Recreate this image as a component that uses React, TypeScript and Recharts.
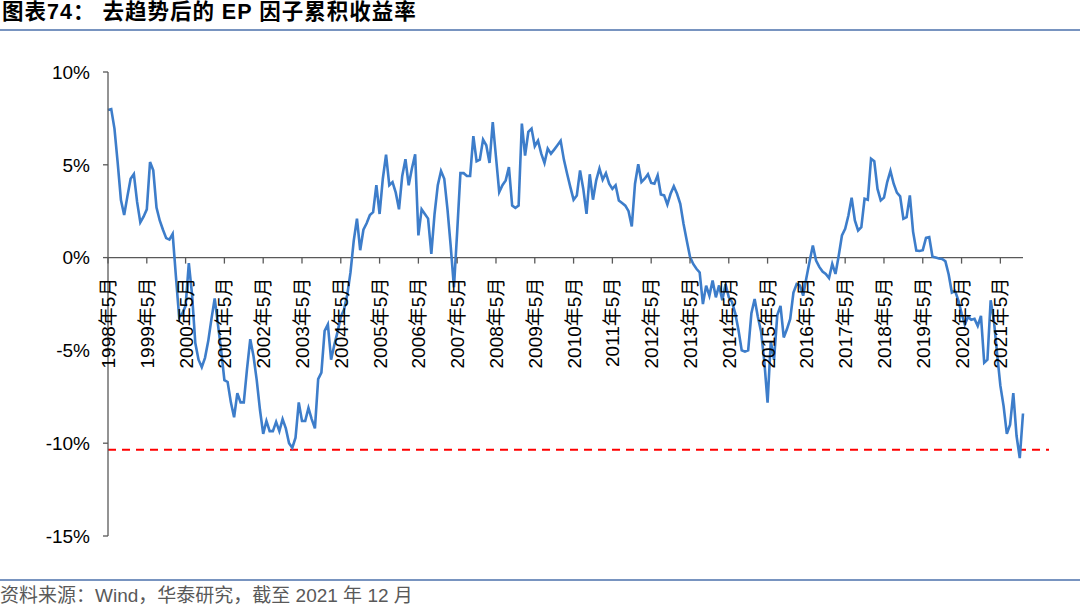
import React from "react";
import { LineChart, Line, XAxis, YAxis, ReferenceLine } from "recharts";

// 去趋势后的 EP 因子累积收益率（%），每行为当年5月至次年4月
const ep1998 = [7.95, 8.0, 6.95, 5.1, 3.1, 2.3, 3.3, 4.25, 4.5, 3.0, 1.9, 2.2];
const ep1999 = [2.6, 5.15, 4.7, 2.7, 2.0, 1.5, 1.05, 0.97, 1.28, -1.0, -3.2, -3.0];
const ep2000 = [-2.6, -0.3, -2.0, -4.6, -5.5, -5.9, -5.4, -4.5, -3.3, -2.2, -3.6, -5.0];
const ep2001 = [-6.6, -6.7, -7.8, -8.6, -7.3, -7.8, -7.8, -6.0, -4.4, -5.3, -6.6, -8.2];
const ep2002 = [-9.5, -8.8, -9.35, -9.35, -8.85, -9.35, -8.7, -9.2, -10.0, -10.25, -9.7, -7.8];
const ep2003 = [-8.8, -8.8, -8.1, -8.7, -9.2, -6.55, -6.2, -3.95, -3.6, -5.5, -4.7, -4.0];
const ep2004 = [-3.2, -2.8, -2.0, -0.8, 0.9, 2.1, 0.4, 1.5, 1.85, 2.3, 2.45, 3.9];
const ep2005 = [2.35, 4.25, 5.55, 3.9, 4.07, 3.5, 2.6, 4.4, 5.3, 3.9, 4.8, 5.57];
const ep2006 = [1.2, 2.6, 2.35, 2.1, 0.2, 2.35, 3.9, 4.67, 4.25, 2.6, 0.6, -1.6];
const ep2007 = [1.4, 4.55, 4.55, 4.4, 4.4, 6.54, 5.19, 5.28, 6.36, 6.05, 5.1, 7.3];
const ep2008 = [5.42, 3.53, 3.9, 4.16, 4.88, 2.8, 2.68, 2.8, 7.22, 5.5, 6.77, 6.95];
const ep2009 = [6.0, 6.3, 5.6, 5.1, 5.87, 5.6, 5.82, 6.05, 6.29, 5.28, 4.52, 3.8];
const ep2010 = [3.12, 3.35, 4.7, 3.7, 2.36, 4.49, 3.12, 4.16, 4.8, 4.2, 4.55, 3.98];
const ep2011 = [3.7, 3.9, 3.08, 2.94, 2.8, 2.5, 1.68, 3.98, 5.03, 4.07, 4.25, 4.49];
const ep2012 = [4.02, 3.98, 4.43, 3.4, 3.35, 2.86, 3.44, 3.84, 3.44, 2.9, 1.82, 0.92];
const ep2013 = [0.05, -0.34, -0.6, -0.8, -2.5, -1.51, -2.05, -1.24, -2.14, -1.5, -2.3, -1.42];
const ep2014 = [-2.14, -2.4, -3.0, -3.9, -5.0, -5.06, -5.0, -3.0, -2.23, -3.2, -4.0, -5.6];
const ep2015 = [-7.82, -4.5, -5.5, -3.1, -2.6, -4.3, -3.85, -3.3, -1.88, -1.42, -1.5, -2.05];
const ep2016 = [-1.1, -0.2, 0.65, -0.16, -0.5, -0.75, -0.88, -1.1, -0.34, -0.88, 0.1, 1.19];
const ep2017 = [1.55, 2.27, 3.23, 2.0, 1.46, 1.64, 3.17, 3.12, 5.33, 5.2, 3.7, 3.08];
const ep2018 = [3.23, 4.07, 4.67, 3.98, 3.5, 3.3, 2.09, 2.18, 3.35, 1.4, 0.38, 0.36];
const ep2019 = [0.4, 1.06, 1.1, 0.05, 0.0, -0.05, -0.07, -0.2, -0.9, -1.88, -1.8, -2.3];
const ep2020 = [-3.0, -3.6, -3.2, -3.35, -3.3, -3.68, -3.14, -5.66, -5.5, -2.3, -3.4, -5.2];
const ep2021 = [-6.9, -8.0, -9.5, -9.0, -7.3, -9.6, -10.8, -8.4];

const START_YEAR = 1998;
const START_MONTH = 5;
const yTicks = [-15, -10, -5, 0, 5, 10];
const floorLevel = -10.35;

const values = [
  ep1998, ep1999, ep2000, ep2001, ep2002, ep2003, ep2004, ep2005,
  ep2006, ep2007, ep2008, ep2009, ep2010, ep2011, ep2012, ep2013,
  ep2014, ep2015, ep2016, ep2017, ep2018, ep2019, ep2020, ep2021,
].flat();

const data = values.map((v, k) => {
  const m = START_MONTH - 1 + k;
  return {
    month: `${START_YEAR + Math.floor(m / 12)}年${(m % 12) + 1}月`,
    value: v,
  };
});

const FONT = "'Liberation Sans', Arial, 'Noto Sans CJK SC', sans-serif";
const W = 1080;
const H = 608;
const PLOT_TOP = 72;
const PLOT_BOTTOM = 536;
// 横轴画在 0% 处
const ZERO_Y = PLOT_TOP + ((PLOT_BOTTOM - PLOT_TOP) * 10) / 25;

function MonthTick(props: any) {
  const { x, payload } = props;
  return (
    <g>
      <line x1={x} x2={x} y1={ZERO_Y} y2={ZERO_Y + 6} stroke="#595959" strokeWidth={1.3} />
      <text
        transform={`translate(${x + 7},${ZERO_Y + 20}) rotate(-90)`}
        textAnchor="end"
        fontSize={19}
        fontFamily={FONT}
        fill="#000"
      >
        {payload.value}
      </text>
    </g>
  );
}

export default function App() {
  return (
    <div style={{ position: "absolute", left: 0, top: 0, width: W, height: H, background: "#fff", fontFamily: FONT }}>
      <div
        style={{
          position: "absolute",
          left: 2,
          top: 0,
          fontSize: 21.5,
          lineHeight: "24px",
          letterSpacing: 1,
          fontWeight: "bold",
          whiteSpace: "pre",
          color: "#000",
        }}
      >
        {"图表74： 去趋势后的 EP 因子累积收益率"}
      </div>
      <div style={{ position: "absolute", left: 0, top: 29, width: W, height: 2, background: "#7894c0" }} />

      <div style={{ position: "absolute", left: 0, top: 0 }}>
        <LineChart
          width={W}
          height={H}
          data={data}
          margin={{ top: PLOT_TOP, right: 57, bottom: H - PLOT_BOTTOM - 1, left: 0 }}
        >
          <YAxis
            type="number"
            domain={[-15, 10]}
            ticks={yTicks}
            interval={0}
            width={108}
            tickFormatter={(v) => `${v}%`}
            axisLine={{ stroke: "#595959", strokeWidth: 1.3 }}
            tickLine={{ stroke: "#595959", strokeWidth: 1.3 }}
            tickSize={5}
            tickMargin={13}
            tick={{ fontSize: 19, fill: "#000", fontFamily: FONT }}
          />
          <XAxis
            dataKey="month"
            interval={11}
            height={1}
            axisLine={false}
            tickLine={false}
            tick={<MonthTick />}
          />
          <ReferenceLine y={0} stroke="#595959" strokeWidth={1.3} />
          <ReferenceLine
            y={floorLevel}
            shape={(p: any) => (
              <line
                x1={p.x1}
                y1={p.y1}
                x2={p.x2 + 26}
                y2={p.y2}
                stroke="#ff0000"
                strokeWidth={2}
                strokeDasharray="8 6"
              />
            )}
          />
          <Line
            type="linear"
            dataKey="value"
            stroke="#3d7dca"
            strokeWidth={2.6}
            dot={false}
            activeDot={false}
            isAnimationActive={false}
          />
        </LineChart>
      </div>

      <div style={{ position: "absolute", left: 0, top: 579, width: W, height: 1.5, background: "#7894c0" }} />
      <div
        style={{
          position: "absolute",
          left: 0,
          top: 585,
          fontSize: 19,
          lineHeight: "22px",
          color: "#595959",
          whiteSpace: "pre",
        }}
      >
        {"资料来源：Wind，华泰研究，截至 2021 年 12 月"}
      </div>
    </div>
  );
}
